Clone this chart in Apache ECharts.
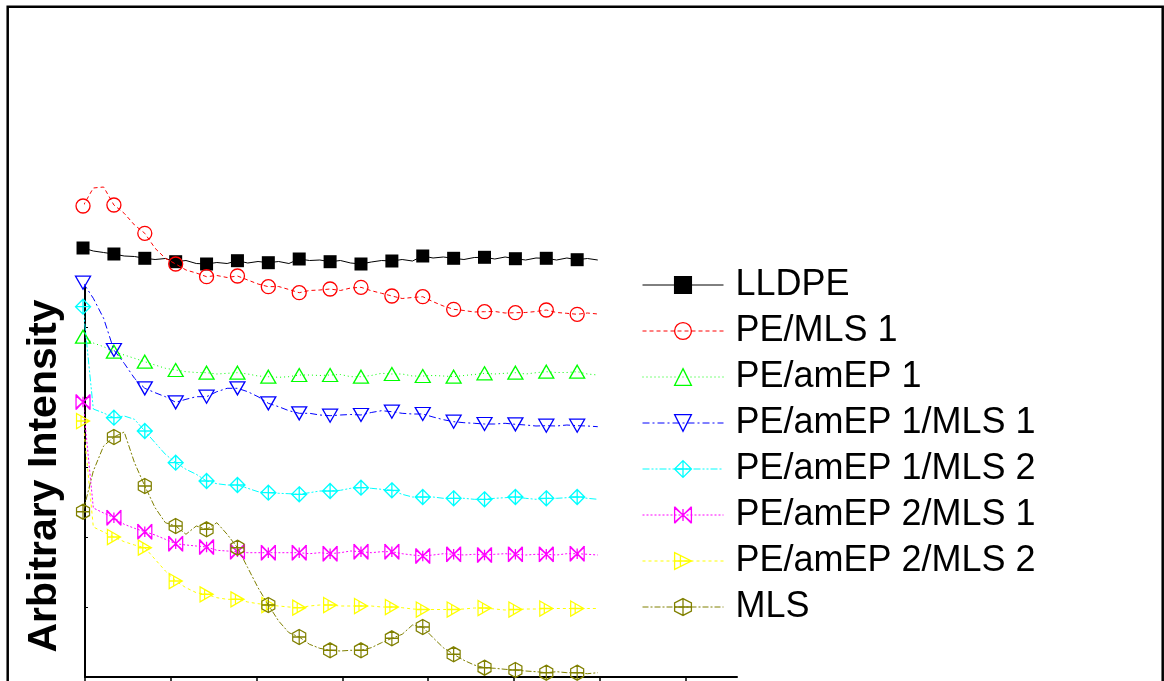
<!DOCTYPE html>
<html>
<head>
<meta charset="utf-8">
<script src="https://cdn.jsdelivr.net/npm/echarts@6/dist/echarts.min.js"></script>
<style>
html,body{margin:0;padding:0;background:#fff;}
#chart{width:1164px;height:681px;}
</style>
</head>
<body>
<div id="chart"></div>
<script>
// ---- data (x = scan position, y = arbitrary intensity) ----
const xStart = 0.977;      // first scan position
const xStep = 0.12;        // scan step
const markerEvery = 3;     // a marker on every 3rd point
const seriesNames = ['LLDPE', 'PE/MLS 1', 'PE/amEP 1', 'PE/amEP 1/MLS 1', 'PE/amEP 1/MLS 2', 'PE/amEP 2/MLS 1', 'PE/amEP 2/MLS 2', 'MLS'];
const xTicks = [1, 2, 3, 4, 5, 6, 7, 8];
const yTicks = [70, 140, 210, 280, 350];

const lldpe = [429, 426, 424.5, 423, 421, 420.5, 418.7, 417.5, 418.5, 415.3, 416.5, 413.5, 413, 414.5, 413.5, 416.3, 414, 415.5, 414.3, 415.5, 413.5, 418, 416.5, 417, 415.3, 416.5, 414, 413, 415, 416.5, 416, 417.5, 416, 421, 419, 420, 418.7, 417.5, 419.5, 419.7, 418, 420, 418.3, 417, 419, 418.7, 417, 419, 417.3, 418.5, 417];
const peMls1 = [471, 489, 490, 472, 463.7, 452, 443.7, 428.7, 418.7, 413, 407, 404, 400.3, 401.5, 399.5, 401, 397, 393, 390.3, 390.5, 387.5, 384.3, 386.5, 387, 388, 386.5, 389, 389.7, 386.3, 383.7, 381, 378.5, 379.5, 380.3, 375.3, 371, 367.7, 366.5, 365, 365.3, 365.5, 364, 364.3, 364.5, 365.5, 367, 364.5, 363.7, 362.7, 364, 363];
const peAmEp1 = [340.3, 334, 330.3, 325.3, 322, 318.7, 315.3, 312, 308.7, 307, 305.3, 304.5, 304.3, 303, 303.7, 304.3, 303, 301, 300.3, 299.7, 300.3, 302, 302, 301.5, 302, 302.5, 300.3, 300.3, 301.5, 303.7, 303, 303, 301, 301, 301.5, 301, 300.3, 301.5, 302.5, 303.7, 303, 303.7, 304.3, 303, 304.3, 305.3, 304.5, 304.5, 305.3, 303, 302];
const peAmEp1Mls1 = [394.3, 378.7, 358.7, 327, 313.7, 298.7, 288.7, 284.3, 280.3, 274.7, 277.7, 280.3, 280.3, 285.3, 288.7, 288.7, 285.3, 280.3, 273.7, 270.3, 266.3, 263.7, 263.7, 262, 261.3, 262, 262.5, 262, 264.5, 266.3, 265.3, 263.7, 263, 263, 260, 257.3, 255.3, 254.3, 253.7, 253, 253, 253.7, 252.7, 252, 251, 251.3, 251, 252, 251.3, 251, 250.3];
const peAmEp1Mls2 = [370.3, 268, 264, 259.3, 261, 257.7, 246, 234.3, 222.7, 214.3, 207.7, 202.7, 196, 193.3, 192, 192, 188.7, 185.3, 184.3, 183.7, 183.3, 182.7, 184.3, 186, 186, 186.7, 188.7, 189.3, 188.7, 187.7, 186.7, 182.7, 180, 180, 180, 178.7, 178.7, 178.7, 177.7, 177.7, 178.7, 179.3, 180, 178.7, 177.7, 178.7, 178.7, 179.3, 180, 178.7, 177.7];
const peAmEp2Mls1 = [275, 169, 164, 159.3, 152.7, 148.7, 145.3, 142, 137.7, 133.3, 132, 131, 130, 126.7, 126, 125.3, 124.3, 124.3, 124.3, 124.3, 124.3, 124.3, 123.3, 124.3, 123.3, 124.3, 126, 125.3, 124.3, 125.3, 125.3, 123.3, 122, 121, 122, 123.3, 122.7, 122, 122.7, 122, 122.7, 123.3, 122.7, 122, 122.7, 122.7, 122, 123.3, 123.3, 122.7, 122];
const peAmEp2Mls2 = [256, 150, 145, 140, 135.3, 132, 129.3, 117.7, 106, 96, 89.3, 84.3, 82.7, 79.3, 77.7, 77.7, 75, 73.3, 72, 71, 70, 69.3, 71, 72, 72, 71, 71, 71, 71, 70, 70, 69.3, 68, 67.5, 67.5, 67.5, 67.5, 68, 69, 69, 68, 67, 67.5, 68, 68, 68.5, 68.5, 68.5, 68.5, 68.5, 68.5];
const mls = [165.3, 206, 231, 240, 245, 214.3, 191, 169.3, 154.3, 151, 142.7, 151, 147.7, 154.3, 142.7, 129.3, 109.3, 89.3, 72, 56, 44.3, 40, 32.7, 28.7, 26.7, 26, 26.7, 26.7, 29.3, 34.3, 38.7, 42.7, 52, 50, 39.3, 29.3, 22.7, 16.7, 12, 9.3, 8.7, 7.7, 7, 6, 5.3, 4.3, 5.3, 4.3, 4.3, 3.3, 4.3];

const allValues = [lldpe, peMls1, peAmEp1, peAmEp1Mls1, peAmEp1Mls2, peAmEp2Mls1, peAmEp2Mls2, mls];

// ---- styles ----
const colors = ['#000000', '#ff0000', '#00ff00', '#0000ff', '#00ffff', '#ff00ff', '#ffff00', '#808000'];
const dashes = ['solid', [4, 3], [1, 3], [7, 3, 2, 3], [7, 2, 2, 2, 2, 2], [2, 2], [3, 3], [6, 2, 2, 2]];
const symbols = [
  'rect',
  'circle',
  'path://M1,0L2,1.732L0,1.732Z',
  'path://M0,0L2,0L1,1.732Z',
  'path://M1,0L2,1L1,2L0,1Z M1,0L1,2 M0,1L2,1',
  'path://M0,0L2,2 M2,0L0,2 M0,0.15L0,1.85L1,1Z M2,0.15L2,1.85L1,1Z M1,0.3L1,1.7',
  'path://M0,0L1.732,1L0,2Z M0,1L1.732,1 M0.6,0.35L0.6,1.65',
  'path://M1,0L1.9,0.5L1.9,1.5L1,2L0.1,1.5L0.1,0.5Z M1,0L1,2 M0.1,1L1.9,1'
];
const sizes = [13, 14, [15, 13], [15, 13], 15, [14, 15], [13, 15], [13, 15]];

const series = allValues.map((vals, s) => ({
  name: seriesNames[s],
  type: 'line',
  clip: false,
  symbol: symbols[s],
  symbolSize: sizes[s],
  symbolKeepAspect: false,
  showSymbol: true,
  showAllSymbol: true,
  animation: false,
  z: 2 + s,
  lineStyle: { color: colors[s], width: 1, type: dashes[s] },
  itemStyle: s === 0
    ? { color: '#000', borderColor: '#000', borderWidth: 0 }
    : { color: 'rgba(255,255,255,0)', borderColor: colors[s], borderWidth: 1.3 },
  emphasis: { disabled: true },
  data: vals.map((v, i) => {
    const x = +(xStart + i * xStep).toFixed(4);
    return i % markerEvery === 0 ? [x, v] : { value: [x, v], symbol: 'none' };
  })
}));

const chart = echarts.init(document.getElementById('chart'), null, { renderer: 'canvas' });
chart.setOption({
  backgroundColor: '#fff',
  animation: false,
  grid: { left: 85, right: 427, top: 287, bottom: 4, containLabel: false },
  xAxis: {
    type: 'value', min: 1, max: 8.6, interval: 1,
    axisLine: { lineStyle: { color: '#000', width: 2 } },
    axisTick: { show: true, inside: false, length: 6, lineStyle: { color: '#000', width: 1.5 }, customValues: xTicks },
    axisLabel: { show: false },
    splitLine: { show: false }
  },
  yAxis: {
    type: 'value', min: 0, max: 390, interval: 70,
    name: 'Arbitrary Intensity',
    nameLocation: 'middle',
    nameRotate: 90,
    nameGap: 20,
    nameTextStyle: { fontFamily: 'Liberation Sans', fontWeight: 'bold', fontSize: 41, color: '#000', padding: [0, 0, 0, 12] },
    axisLine: { lineStyle: { color: '#000', width: 2 } },
    axisTick: { show: true, inside: true, length: 3, lineStyle: { color: '#000', width: 1 }, customValues: yTicks },
    axisLabel: { show: false },
    splitLine: { show: false }
  },
  legend: {
    orient: 'vertical',
    left: 642,
    top: 267,
    padding: 0,
    itemWidth: 81,
    itemHeight: 21,
    itemGap: 10,
    selectedMode: false,
    data: seriesNames,
    textStyle: { fontFamily: 'Liberation Sans', fontSize: 36, color: '#000', padding: [0, 0, 0, 7] },
    lineStyle: { width: 1 },
    itemStyle: { borderWidth: 1.3 }
  },
  graphic: [{
    type: 'rect',
    shape: { x: 7.7, y: 6.7, width: 1155, height: 720 },
    style: { fill: 'none', stroke: '#000', lineWidth: 2.5 },
    silent: true,
    z: 100
  }],
  series: series
});
</script>
</body>
</html>
